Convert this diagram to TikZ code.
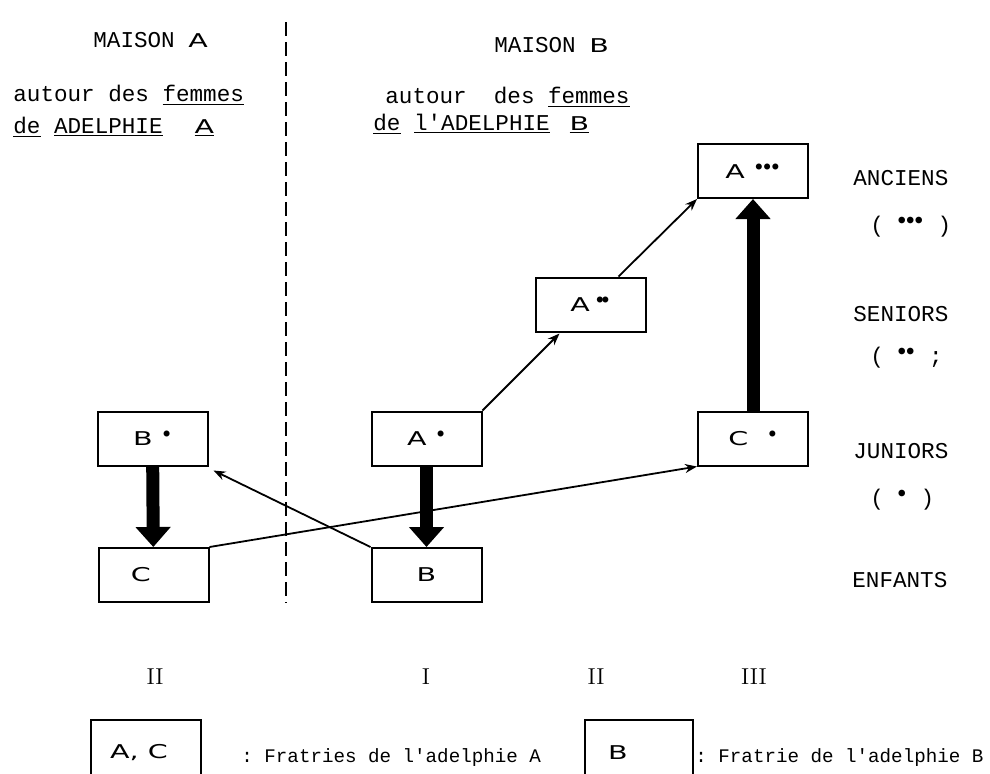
\documentclass[tikz,border=0pt]{standalone}
\usepackage{fontspec}
\setmonofont{Liberation Mono}
\newfontfamily\boxfont[FakeStretch=1.5]{DejaVu Sans}
\usetikzlibrary{positioning,arrows.meta,calc}

\newcommand{\gdot}[1]{$^{#1}$}

\tikzset{
  fbox/.style={draw,line width=1pt,minimum width=55pt,minimum height=27pt,inner sep=0pt,
    font=\boxfont\fontsize{9.5}{12}\selectfont},
  lbl/.style={inner sep=0pt,anchor=base west,font=\ttfamily\fontsize{11.3}{13}\selectfont},
  num/.style={inner sep=0pt,font=\normalfont\fontsize{11.5}{13}\selectfont},
  leg/.style={inner sep=0pt,anchor=base west,font=\ttfamily\fontsize{9.6}{11}\selectfont},
  fat/.style={line width=6.5pt,-{Triangle[width=17pt,length=10pt]}},
  thin/.style={line width=0.9pt,-{Stealth[length=6pt,width=4.5pt]}}
}

\begin{document}
\begin{tikzpicture}[x=0.5pt,y=-0.5pt]
    \useasboundingbox (0,0) rectangle (990,773);

    % separation des deux maisons
    \coordinate (dtop) at (286,22);
    \coordinate (dbot) at (286,603);
    \draw[line width=0.8pt,dash pattern=on 7pt off 3pt] (dtop) -- (dbot);

    % titres
    \node[lbl] (maisA) at (93,47) {MAISON {\boxfont\fontsize{9.5}{12}\selectfont A}};
    \node[lbl] (autA) at (13,101) {autour des \underline{femmes}};
    \node[lbl] (adeA) at (13,133) {\underline{de} \underline{ADELPHIE}\hspace{16pt}\underline{\boxfont\fontsize{9.5}{12}\selectfont A}};
    \node[lbl] (maisB) at (494,52) {MAISON {\boxfont\fontsize{9.5}{12}\selectfont B}};
    \node[lbl] (autB) at (385,103) {autour~ des \underline{femmes}};
    \node[lbl] (adeB) at (373,130) {\underline{de} \underline{l'ADELPHIE}\hspace{10pt}\underline{\boxfont\fontsize{9.5}{12}\selectfont B}};

    % fratries
    \node[fbox] (aaa) at (753,171) {A\hspace{5pt}\gdot{\bullet\bullet\bullet}};
    \node[fbox] (aa) at (590.5,304.5) {A\hspace{3pt}\gdot{\bullet\!\bullet}};
    \node[fbox] (bj) at (152.5,438.5) {B\hspace{5pt}\gdot{\bullet}};
    \node[fbox] (aj) at (426.5,438.5) {A\hspace{5pt}\gdot{\bullet}};
    \node[fbox] (cj) at (753,438.5) {C\hspace{10pt}\gdot{\bullet}};
    \node[fbox] (ce) at (153.5,575) {C\hphantom{\hspace{8pt}\gdot{\bullet}}};
    \node[fbox] (be) at (426.5,575) {B};

    % classes d'age
    \node[lbl] (anc) at (853,185) {ANCIENS};
    \node[lbl] (ancp) at (870,232) {( \gdot{\bullet\bullet\bullet} )};
    \node[lbl] (sen) at (853,321) {SENIORS};
    \node[lbl] (senp) at (870,363) {( \gdot{\bullet\bullet} ;};
    \node[lbl] (jun) at (853,458) {JUNIORS};
    \node[lbl] (junp) at (870,505) {( \gdot{\bullet} )};
    \node[lbl] (enf) at (852,587) {ENFANTS};

    % generations
    \node[num] (g1) at (155,677) {II};
    \node[num] (g2) at (426,677) {I};
    \node[num] (g3) at (596,677) {II};
    \node[num] (g4) at (754,677) {III};

    % legende
    \node[inner sep=0pt,font=\boxfont\fontsize{9.5}{12}\selectfont] (lgA) at (139,753) {A, C};
    \draw[line width=1pt] ([shift={(-48,50)}]lgA.center) |- ([shift={(62,-33)}]lgA.center) -- ([shift={(62,50)}]lgA.center);
    \node[leg] (txA) at (241,762) {: Fratries de l'adelphie A};
    \node[inner sep=0pt,font=\boxfont\fontsize{9.5}{12}\selectfont] (lgB) at (618,753) {B};
    \draw[line width=1pt] ([shift={(-33,50)}]lgB.center) |- ([shift={(75,-33)}]lgB.center) -- ([shift={(75,50)}]lgB.center);
    \node[leg] (txB) at (695,762) {: Fratrie de l'adelphie B};

    \draw[fat] (bj) -- (ce);
    \draw[fat] (aj) -- (be);
    \draw[fat] (cj) -- (aaa);
    \draw[thin] (aj.north east) -- ($(aa.south west)+(25,1)$);
    \draw[thin] ($(aa.north)+(28,0)$) -- (aaa.south west);
    \draw[thin] (be.north west) -- ($(bj.south east)+(5,4)$);
    \draw[thin] (ce.north east) -- (cj.south west);
  \end{tikzpicture}
\end{document}
